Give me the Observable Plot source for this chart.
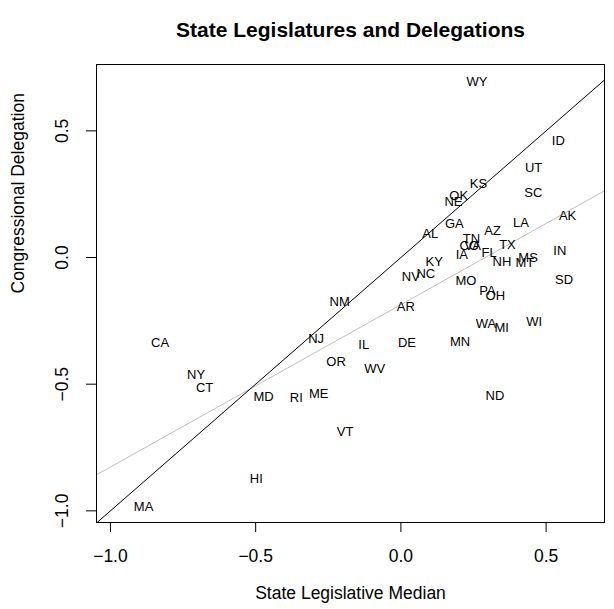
<!DOCTYPE html>
<html><head><meta charset="utf-8">
<script src="https://cdn.jsdelivr.net/npm/d3@7"></script>
<script src="https://cdn.jsdelivr.net/npm/@observablehq/plot@0.6"></script>
<style>body{margin:0;background:#fff}</style>
</head><body><div id="chart"></div>
<script>
const states = ["WY","ID","UT","KS","OK","NE","SC","AK","LA","GA","AZ","AL","TN","CO","VA","TX","IA","FL","IN","MS","MT","NH","KY","NV","NC","MO","SD","PA","OH","AR","WA","MI","WI","IL","DE","MN","WV","ND","NM","NJ","CA","OR","NY","CT","MD","RI","ME","VT","HI","MA"];
const legislativeMedian = [0.262,0.542,0.457,0.267,0.199,0.181,0.456,0.574,0.413,0.184,0.316,0.101,0.243,0.235,0.247,0.367,0.210,0.304,0.547,0.438,0.427,0.348,0.115,0.034,0.086,0.224,0.562,0.298,0.325,0.017,0.293,0.347,0.459,-0.128,0.021,0.204,-0.090,0.324,-0.211,-0.292,-0.829,-0.223,-0.705,-0.676,-0.473,-0.360,-0.283,-0.192,-0.498,-0.886];
const congressionalDelegation = [0.693,0.462,0.354,0.291,0.245,0.219,0.256,0.166,0.137,0.133,0.105,0.092,0.074,0.045,0.045,0.050,0.011,0.017,0.028,-0.003,-0.021,-0.018,-0.016,-0.075,-0.065,-0.091,-0.087,-0.130,-0.150,-0.194,-0.260,-0.278,-0.253,-0.345,-0.337,-0.332,-0.440,-0.547,-0.174,-0.319,-0.335,-0.411,-0.464,-0.513,-0.549,-0.555,-0.539,-0.690,-0.872,-0.983];
const xTicks = [-1.0, -0.5, 0.0, 0.5];
const yTicks = [-1.0, -0.5, 0.0, 0.5];
const fitIntercept = -0.186;
const fitSlope = 0.641;
const titleText = "State Legislatures and Delegations";
const xLabel = "State Legislative Median";
const yLabel = "Congressional Delegation";

const data = states.map((s, i) => ({state: s, x: legislativeMedian[i], y: congressionalDelegation[i]}));
const xDomain = [-1.048, 0.701];
const yDomain = [-1.046, 0.762];
const fmt = d => d.toFixed(1).replace("-", "\u2212");
const diag = xDomain.map(v => ({x: v, y: v}));
const fit = xDomain.map(v => ({x: v, y: fitIntercept + fitSlope * v}));

const chart = Plot.plot({
  width: 614, height: 609,
  marginTop: 64, marginRight: 10, marginBottom: 87, marginLeft: 96,
  style: {fontFamily: "'Liberation Sans', Arial, Helvetica, sans-serif", background: "#fff", color: "#000"},
  x: {domain: xDomain},
  y: {domain: yDomain},
  marks: [
    Plot.line(fit, {x: "x", y: "y", stroke: "#bebebe", strokeWidth: 1, clip: true}),
    Plot.line(diag, {x: "x", y: "y", stroke: "#000", strokeWidth: 1, clip: true}),
    Plot.text(data, {x: "x", y: "y", text: "state", fontSize: 13, fill: "#000"}),
    Plot.frame({stroke: "#000"}),
    Plot.axisX(xTicks, {tickSize: 10, tickPadding: 17, tickFormat: fmt, fontSize: 17.5, label: null}),
    Plot.axisY(yTicks, {tickSize: 10, tickPadding: 19, tickFormat: fmt, tickRotate: -90, fontSize: 17.5, label: null}),
    Plot.text([xLabel], {frameAnchor: "bottom", dy: 76, text: d => d, fontSize: 17.5}),
    Plot.text([yLabel], {frameAnchor: "left", dx: -78, rotate: -90, text: d => d, fontSize: 17.5}),
    Plot.text([titleText], {frameAnchor: "top", dy: -42, text: d => d, fontSize: 21, fontWeight: "bold"})
  ]
});
document.getElementById("chart").appendChild(chart);
</script>
</body></html>
